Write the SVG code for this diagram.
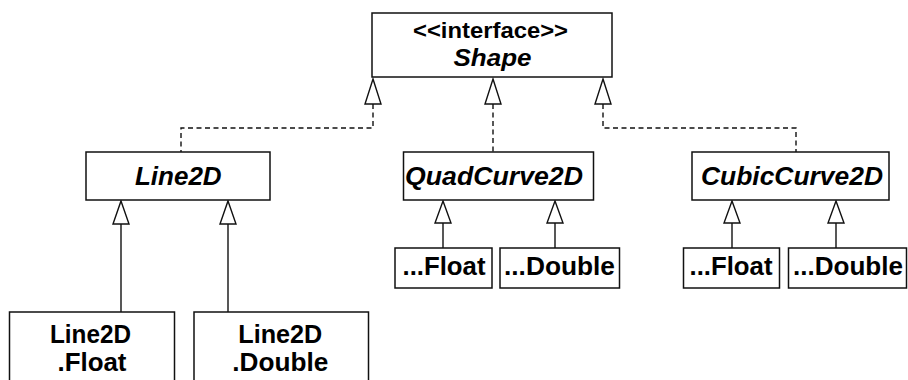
<svg xmlns="http://www.w3.org/2000/svg" width="908" height="380" viewBox="0 0 908 380">
<style>
.box{fill:#fff;stroke:#111;stroke-width:1.5}
.t{font-family:"Liberation Sans",Arial,Helvetica,sans-serif;font-weight:bold;fill:#000;text-anchor:middle}
.i{font-style:italic}
.dash{fill:none;stroke:#111;stroke-width:1.4;stroke-dasharray:5,3.5}
.solid{fill:none;stroke:#111;stroke-width:1.4}
.tri{fill:#fff;stroke:#111;stroke-width:1.4;stroke-linejoin:miter}
</style>
<rect width="908" height="380" fill="#fff"/>
<g id="connectors">
  <path class="dash" d="M373,104 V128 H181 V152"/>
  <path class="dash" d="M493,104 V152"/>
  <path class="dash" d="M603,104 V128 H796 V152"/>
  <path class="solid" d="M121,224 V312"/>
  <path class="solid" d="M228,224 V312"/>
  <path class="solid" d="M443,223 V248"/>
  <path class="solid" d="M555,223 V248"/>
  <path class="solid" d="M732,223 V248"/>
  <path class="solid" d="M836,223 V248"/>
  <path class="tri" d="M373,79 L381,104 L365,104 Z"/>
  <path class="tri" d="M493,79 L501,104 L485,104 Z"/>
  <path class="tri" d="M603,79 L611,104 L595,104 Z"/>
  <path class="tri" d="M121,201 L129,224 L113,224 Z"/>
  <path class="tri" d="M228,201 L236,224 L220,224 Z"/>
  <path class="tri" d="M443,201 L451,223 L435,223 Z"/>
  <path class="tri" d="M555,201 L563,223 L547,223 Z"/>
  <path class="tri" d="M732,201 L740,223 L724,223 Z"/>
  <path class="tri" d="M836,201 L844,223 L828,223 Z"/>
</g>
<g id="shape">
  <rect class="box" x="372" y="13" width="240" height="64"/>
  <text class="t" x="490.5" y="37.5" font-size="21.5" textLength="155" lengthAdjust="spacingAndGlyphs">&lt;&lt;interface&gt;&gt;</text>
  <text class="t i" x="492.5" y="66" font-size="24.5" textLength="78" lengthAdjust="spacingAndGlyphs">Shape</text>
</g>
<g id="line2d">
  <rect class="box" x="86" y="152" width="184" height="48"/>
  <text class="t i" x="178.3" y="185" font-size="25" textLength="86.7" lengthAdjust="spacingAndGlyphs">Line2D</text>
</g>
<g id="quadcurve2d">
  <rect class="box" x="403.5" y="152" width="190" height="48"/>
  <text class="t i" x="494" y="185" font-size="25" textLength="178" lengthAdjust="spacingAndGlyphs">QuadCurve2D</text>
</g>
<g id="cubiccurve2d">
  <rect class="box" x="692" y="152" width="197" height="48"/>
  <text class="t i" x="792" y="185" font-size="25" textLength="182" lengthAdjust="spacingAndGlyphs">CubicCurve2D</text>
</g>
<g id="quad-float">
  <rect class="box" x="395" y="248" width="97" height="40"/>
  <text class="t" x="444" y="275" font-size="25" textLength="83" lengthAdjust="spacingAndGlyphs">...Float</text>
</g>
<g id="quad-double">
  <rect class="box" x="500" y="248" width="119.5" height="40"/>
  <text class="t" x="559.5" y="275" font-size="25" textLength="111" lengthAdjust="spacingAndGlyphs">...Double</text>
</g>
<g id="cubic-float">
  <rect class="box" x="683.5" y="248" width="96" height="40"/>
  <text class="t" x="731" y="275" font-size="25" textLength="83" lengthAdjust="spacingAndGlyphs">...Float</text>
</g>
<g id="cubic-double">
  <rect class="box" x="788.5" y="248" width="118" height="40"/>
  <text class="t" x="848" y="275" font-size="25" textLength="110" lengthAdjust="spacingAndGlyphs">...Double</text>
</g>
<g id="line2d-float">
  <rect class="box" x="9.5" y="312" width="165" height="80"/>
  <text class="t" x="90.5" y="343" font-size="26.5" textLength="81" lengthAdjust="spacingAndGlyphs">Line2D</text>
  <text class="t" x="92" y="371" font-size="26.5" textLength="69" lengthAdjust="spacingAndGlyphs">.Float</text>
</g>
<g id="line2d-double">
  <rect class="box" x="194" y="312" width="174.5" height="80"/>
  <text class="t" x="280.3" y="343" font-size="26.5" textLength="84" lengthAdjust="spacingAndGlyphs">Line2D</text>
  <text class="t" x="280.3" y="371" font-size="26.5" textLength="96" lengthAdjust="spacingAndGlyphs">.Double</text>
</g>
</svg>
